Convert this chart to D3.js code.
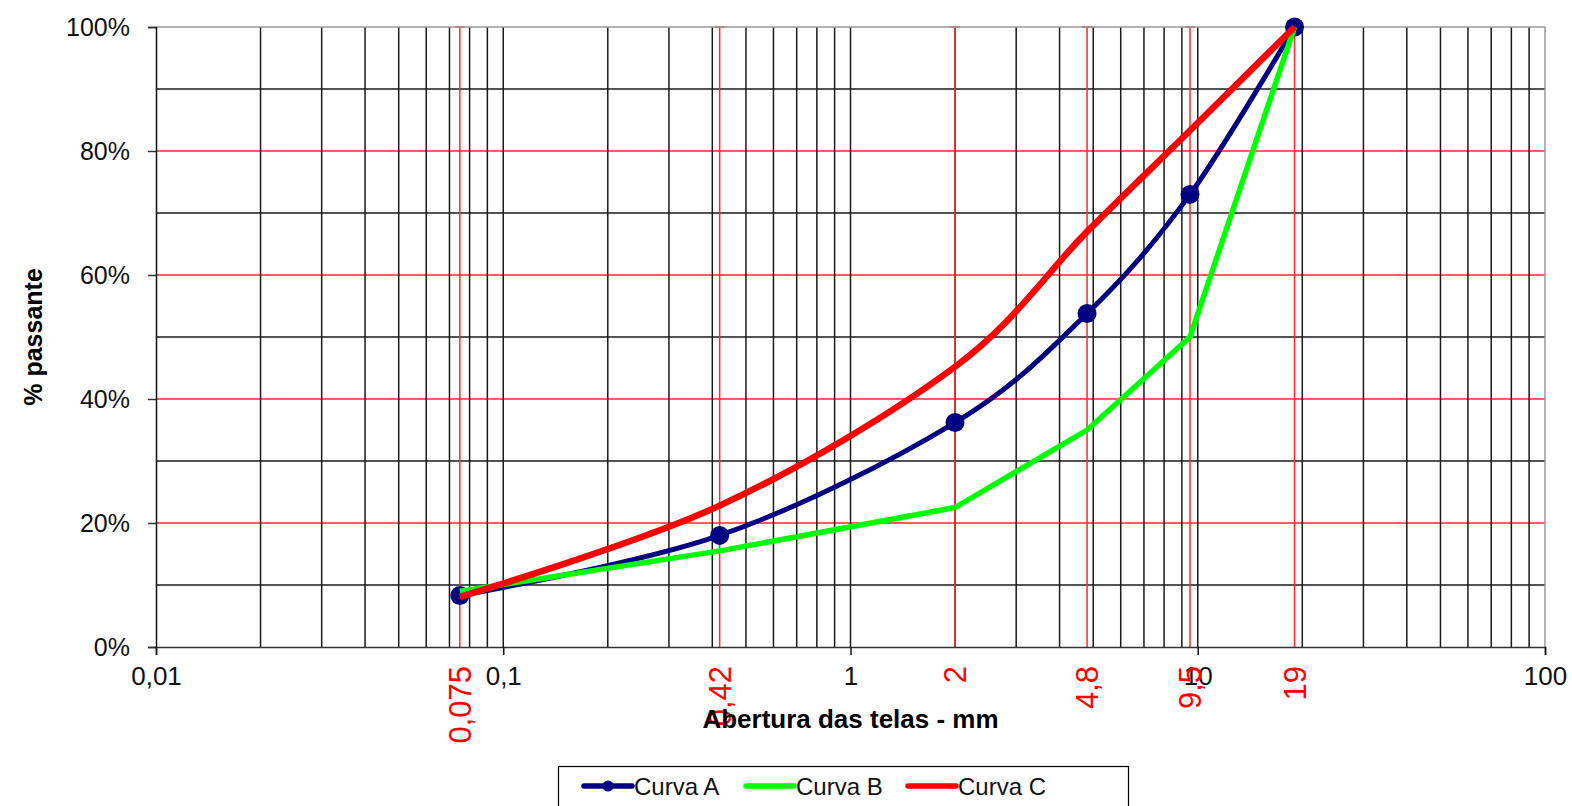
<!DOCTYPE html>
<html>
<head>
<meta charset="utf-8">
<script src="https://cdn.jsdelivr.net/npm/d3@7/dist/d3.min.js"></script>
<style>
  html, body { margin: 0; padding: 0; background: #fff; }
  svg { display: block; font-family: "Liberation Sans", Arial, sans-serif; }
</style>
</head>
<body>
<svg id="chart" width="1572" height="806"></svg>
<script>
// Sieve openings (mm) and percent passing for each grading curve
const sieves = [0.075, 0.42, 2, 4.8, 9.5, 19];
const sieveLabels = ["0,075", "0,42", "2", "4,8", "9,5", "19"];
const curvaA = [8.3, 18, 36.2, 53.8, 73, 100];
const curvaB = [9, 15.5, 22.5, 35, 50, 100];
const curvaC = [8.1, 22.8, 45.2, 67, 83.3, 100];

const xTicks = [0.01, 0.1, 1, 10, 100];
const xTickLabels = ["0,01", "0,1", "1", "10", "100"];
const yTicks = [0, 20, 40, 60, 80, 100];
const yMinorGrid = [10, 30, 50, 70, 90];
const yRedGrid = [20, 40, 60, 80];

const seriesNames = ["Curva A", "Curva B", "Curva C"];
const seriesColors = ["#000080", "#00ff00", "#ff0000"];

const svg = d3.select("#chart");
const M = { left: 156, right: 1545, top: 27, bottom: 647 };

const x = d3.scaleLog().domain([0.01, 100]).range([M.left, M.right]);
const y = d3.scaleLinear().domain([0, 100]).range([M.bottom, M.top]);

// Minor logarithmic grid (2..9 of each decade, plus decade lines)
const minorX = [];
[0.01, 0.1, 1, 10].forEach(d => { for (let k = 1; k <= 9; k++) if (!(k === 1 && d === 0.01)) minorX.push(k * d); });

const grid = svg.append("g");
grid.selectAll("line.hb").data(yMinorGrid).join("line")
  .attr("x1", M.left).attr("x2", M.right)
  .attr("y1", d => y(d)).attr("y2", d => y(d))
  .attr("stroke", "#1a1a1a").attr("stroke-width", 1.5);
grid.selectAll("line.hr").data(yRedGrid).join("line")
  .attr("x1", M.left).attr("x2", M.right)
  .attr("y1", d => y(d)).attr("y2", d => y(d))
  .attr("stroke", "#ff2a2a").attr("stroke-width", 1.5);
grid.selectAll("line.v").data(minorX).join("line")
  .attr("x1", d => x(d)).attr("x2", d => x(d))
  .attr("y1", M.top).attr("y2", M.bottom)
  .attr("stroke", "#1a1a1a").attr("stroke-width", 1.5);

// Red sieve reference lines with a small cap at the top
const sieveG = svg.append("g");
sieveG.selectAll("line.s").data(sieves).join("line")
  .attr("x1", d => x(d)).attr("x2", d => x(d))
  .attr("y1", M.top).attr("y2", M.bottom)
  .attr("stroke", "#ff2a2a").attr("stroke-width", 1.5);
sieveG.selectAll("line.cap").data(sieves).join("line")
  .attr("x1", d => x(d) - 5).attr("x2", d => x(d) + 5)
  .attr("y1", M.top).attr("y2", M.top)
  .attr("stroke", "#ff2a2a").attr("stroke-width", 1.5);

// Plot frame (top and right in grey)
svg.append("line").attr("x1", M.left).attr("x2", M.right).attr("y1", M.top).attr("y2", M.top)
  .attr("stroke", "#999").attr("stroke-width", 1.5);
svg.append("line").attr("x1", M.right).attr("x2", M.right).attr("y1", M.top).attr("y2", M.bottom)
  .attr("stroke", "#999").attr("stroke-width", 1.5);

// Axes
const yAxis = d3.axisLeft(y).tickValues(yTicks).tickFormat(d => d + "%").tickSize(8).tickPadding(18);
const gy = svg.append("g").attr("transform", `translate(${M.left},0)`).call(yAxis);
gy.select(".domain").attr("stroke", "#111").attr("stroke-width", 1.5);
gy.selectAll(".tick line").attr("stroke", "#333").attr("stroke-width", 1.5);
gy.selectAll(".tick text").attr("font-size", 25).attr("fill", "#111")
  .attr("font-family", "'Liberation Sans', Arial, sans-serif");

const xAxis = d3.axisBottom(x).tickValues(xTicks).tickFormat((d, i) => xTickLabels[i]).tickSize(8).tickPadding(12);
const gx = svg.append("g").attr("transform", `translate(0,${M.bottom})`).call(xAxis);
gx.select(".domain").attr("stroke", "#333").attr("stroke-width", 1.5);
gx.selectAll(".tick line").attr("stroke", "#111").attr("stroke-width", 1.5);
gx.selectAll(".tick text").attr("font-size", 26).attr("fill", "#111")
  .attr("font-family", "'Liberation Sans', Arial, sans-serif");

// Rotated red labels for each sieve
svg.append("g").selectAll("text").data(sieves).join("text")
  .attr("transform", d => `translate(${x(d) + 11},${M.bottom + 19}) rotate(-90)`)
  .attr("text-anchor", "end")
  .attr("font-size", 31)
  .attr("fill", "#ff0000")
  .text((d, i) => sieveLabels[i]);

// Axis titles
svg.append("text")
  .attr("x", x(1)).attr("y", 728)
  .attr("text-anchor", "middle")
  .attr("font-size", 26).attr("font-weight", "bold").attr("fill", "#000")
  .text("Abertura das telas - mm");
svg.append("text")
  .attr("transform", `translate(42,337) rotate(-90)`)
  .attr("text-anchor", "middle")
  .attr("font-size", 25).attr("font-weight", "bold").attr("fill", "#000")
  .text("% passante");

// Curves
const smooth = d3.line().x(d => x(d[0])).y(d => y(d[1])).curve(d3.curveCatmullRom.alpha(0));
const straight = d3.line().x(d => x(d[0])).y(d => y(d[1]));
const ptsA = sieves.map((s, i) => [s, curvaA[i]]);
const ptsB = sieves.map((s, i) => [s, curvaB[i]]);
const ptsC = sieves.map((s, i) => [s, curvaC[i]]);

const plot = svg.append("g");
plot.append("path").attr("d", smooth(ptsA)).attr("fill", "none")
  .attr("stroke", seriesColors[0]).attr("stroke-width", 5).attr("stroke-linejoin", "round");
plot.selectAll("circle").data(ptsA).join("circle")
  .attr("cx", d => x(d[0])).attr("cy", d => y(d[1])).attr("r", 9.5)
  .attr("fill", seriesColors[0]);
plot.append("path").attr("d", straight(ptsB)).attr("fill", "none")
  .attr("stroke", seriesColors[1]).attr("stroke-width", 5.5).attr("stroke-linejoin", "round");
plot.append("path").attr("d", smooth(ptsC)).attr("fill", "none")
  .attr("stroke", seriesColors[2]).attr("stroke-width", 6.5).attr("stroke-linejoin", "round");

// Legend
const lg = svg.append("g");
lg.append("rect").attr("x", 558.5).attr("y", 766.5).attr("width", 570).attr("height", 60)
  .attr("fill", "#fff").attr("stroke", "#000").attr("stroke-width", 1.2);
const legX = [584, 746, 908];
seriesNames.forEach((name, i) => {
  const g = lg.append("g").attr("transform", `translate(${legX[i]},786)`);
  g.append("line").attr("x1", 0).attr("x2", 48).attr("y1", 0).attr("y2", 0)
    .attr("stroke", seriesColors[i]).attr("stroke-width", 5.5).attr("stroke-linecap", "round");
  if (i === 0) g.append("circle").attr("cx", 24).attr("cy", 0).attr("r", 5.5).attr("fill", seriesColors[0]);
  g.append("text").attr("x", 50).attr("y", 9).attr("font-size", 24).attr("fill", "#111").text(name);
});
</script>
</body>
</html>
